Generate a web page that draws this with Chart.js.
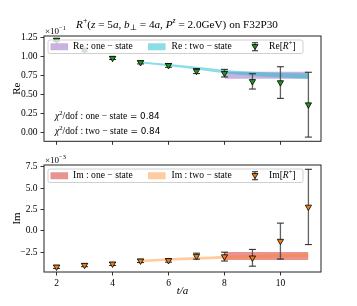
<!DOCTYPE html>
<html><head><meta charset="utf-8">
<script src="https://cdn.jsdelivr.net/npm/chart.js@4/dist/chart.umd.min.js"></script>
<style>
html,body{margin:0;padding:0;background:#fff;}
canvas{position:absolute;left:0;}
#c1{top:0;} #c2{top:150px;}
</style></head>
<body>
<canvas id="c1" width="357" height="150"></canvas>
<canvas id="c2" width="357" height="156"></canvas>
<script>
// ---- data (Re in units of 1e-1, Im in units of 1e-3) ----
const tA = [2, 3, 4, 5, 6, 7, 8, 9, 10, 11];
const reMean = [1.218, 1.088, 0.980, 0.924, 0.885, 0.810, 0.783, 0.675, 0.660, 0.370];
const reErr  = [0.018, 0.018, 0.018, 0.020, 0.025, 0.033, 0.050, 0.100, 0.207, 0.425];
const imMean = [-4.20, -4.00, -3.85, -3.50, -3.45, -2.95, -3.00, -3.14, -1.19, 2.80];
const imErr  = [0.18, 0.18, 0.18, 0.20, 0.20, 0.35, 0.52, 0.98, 2.10, 4.40];

const oneStateT = [8, 11];
const reOneLow  = [0.710, 0.710];
const reOneHigh = [0.800, 0.800];
const imOneLow  = [-3.40, -3.40];
const imOneHigh = [-2.45, -2.45];

const twoStateT = [5, 5.5, 6, 6.5, 7, 7.5, 8, 8.5, 9, 9.5, 10, 10.5, 11];
const reTwoMean = [0.925, 0.906, 0.888, 0.870, 0.850, 0.826, 0.803, 0.787, 0.774, 0.764, 0.756, 0.749, 0.743];
const reTwoErr  = [0.012, 0.013, 0.014, 0.016, 0.018, 0.020, 0.022, 0.024, 0.026, 0.028, 0.030, 0.032, 0.034];
const imTwoMean = [-3.52, -3.43, -3.35, -3.27, -3.20, -3.14, -3.08, -3.03, -2.98, -2.95, -2.92, -2.90, -2.88];
const imTwoErr  = [0.14, 0.14, 0.15, 0.15, 0.16, 0.16, 0.17, 0.17, 0.18, 0.18, 0.19, 0.19, 0.20];

const xTicks  = [2, 4, 6, 8, 10];
const reTicks = [0, 0.25, 0.5, 0.75, 1.0, 1.25];
const imTicks = [-2.5, 0, 2.5, 5.0, 7.5];

const SERIF = '"Liberation Serif", "DejaVu Serif", serif';
const SANS = '"DejaVu Sans", sans-serif';

// ---- rich text helper ----
function rich(ctx, parts, x, y, size, align) {
  const fonts = parts.map(p => {
    const o = p[1] || {};
    const base = o.size || size;
    const s = (o.sup || o.sub) ? base * 0.7 : base;
    return (o.i ? 'italic ' : '') + s + 'px ' + (o.fam || SERIF);
  });
  let w = 0;
  parts.forEach((p, k) => { ctx.font = fonts[k]; w += ctx.measureText(p[0]).width; });
  let cx = align === 'center' ? x - w / 2 : (align === 'right' ? x - w : x);
  ctx.textBaseline = 'middle'; ctx.textAlign = 'left';
  parts.forEach((p, k) => {
    const o = p[1] || {};
    ctx.font = fonts[k];
    const dy = o.sup ? -size * 0.38 : (o.sub ? size * 0.28 : 0);
    ctx.fillText(p[0], cx, y + dy);
    cx += ctx.measureText(p[0]).width;
  });
}

function zip(xs, ys) { return xs.map((x, i) => ({x: x, y: ys[i]})); }

function errGlyph(ctx, x, y, half, capW) {
  ctx.strokeStyle = 'rgba(70,70,70,0.85)'; ctx.lineWidth = 1.3;
  ctx.beginPath(); ctx.moveTo(x, y - half); ctx.lineTo(x, y + half); ctx.stroke();
  ctx.strokeStyle = '#222'; ctx.lineWidth = 1;
  ctx.beginPath();
  ctx.moveTo(x - capW, y - half); ctx.lineTo(x + capW, y - half);
  ctx.moveTo(x - capW, y + half); ctx.lineTo(x + capW, y + half);
  ctx.stroke();
}

function makeChart(id, p) {
  const ds = [
    {data: zip(tA, p.mean), showLine: false, pointStyle: 'triangle', rotation: 180,
     pointRadius: 3.6, pointBackgroundColor: p.mk, pointBorderColor: '#000', pointBorderWidth: 0.8, order: 0},
    {data: zip(twoStateT, p.twoMean.map((v, i) => v + p.twoErr[i])), fill: '+1', backgroundColor: p.twoCol,
     borderWidth: 0, pointRadius: 0, order: 1},
    {data: zip(twoStateT, p.twoMean.map((v, i) => v - p.twoErr[i])), fill: false, borderWidth: 0, pointRadius: 0, order: 1},
    {data: zip(oneStateT, p.oneHigh), fill: '+1', backgroundColor: p.oneCol, borderWidth: 0, pointRadius: 0, order: 2},
    {data: zip(oneStateT, p.oneLow), fill: false, borderWidth: 0, pointRadius: 0, order: 2}
  ];
  const plug = {
    id: 'extras',
    beforeDatasetDraw(chart, args) {
      if (args.index !== 0) return;
      const ctx = chart.ctx, xs = chart.scales.x, ys = chart.scales.y;
      ctx.save();
      tA.forEach((t, i) => {
        const px = xs.getPixelForValue(t);
        const y1 = ys.getPixelForValue(p.mean[i] + p.err[i]);
        const y2 = ys.getPixelForValue(p.mean[i] - p.err[i]);
        ctx.strokeStyle = 'rgba(70,70,70,0.85)'; ctx.lineWidth = 1.3;
        ctx.beginPath(); ctx.moveTo(px, y1); ctx.lineTo(px, y2); ctx.stroke();
        ctx.strokeStyle = '#222'; ctx.lineWidth = 1;
        ctx.beginPath(); ctx.moveTo(px - 3.5, y1); ctx.lineTo(px + 3.5, y1);
        ctx.moveTo(px - 3.5, y2); ctx.lineTo(px + 3.5, y2); ctx.stroke();
      });
      ctx.restore();
    },
    afterDatasetsDraw(chart) {
      const ctx = chart.ctx, a = chart.chartArea;
      ctx.save();
      const L = a.left + 4, T = a.top + 4, W = 255, H = 13.5;
      ctx.fillStyle = 'rgba(255,255,255,0.8)'; ctx.strokeStyle = '#d0d0d0'; ctx.lineWidth = 1;
      ctx.beginPath(); ctx.roundRect(L, T, W, H, 2); ctx.fill(); ctx.stroke();
      const cy = T + H / 2;
      ctx.fillStyle = p.oneCol; ctx.fillRect(L + 2.5, cy - 3.5, 17.6, 7);
      ctx.fillStyle = p.twoCol; ctx.fillRect(L + 100, cy - 3.5, 17.6, 7);
      ctx.fillStyle = '#000';
      rich(ctx, [[p.lab + ' : one − state']], L + 25, cy, 9.6, 'left');
      rich(ctx, [[p.lab + ' : two − state']], L + 123.5, cy, 9.6, 'left');
      errGlyph(ctx, L + 207, cy, 4, 3);
      ctx.fillStyle = p.mk; ctx.strokeStyle = '#000'; ctx.lineWidth = 0.8;
      ctx.beginPath(); ctx.moveTo(L + 204, cy - 2.2); ctx.lineTo(L + 210, cy - 2.2); ctx.lineTo(L + 207, cy + 2.8);
      ctx.closePath(); ctx.fill(); ctx.stroke();
      ctx.fillStyle = '#000';
      rich(ctx, [[p.lab + '['], ['R', {i: true}], ['+', {sup: true}], [']']], L + 221, cy, 9.6, 'left');
      ctx.restore();
    },
    afterDraw(chart) {
      const ctx = chart.ctx, a = chart.chartArea;
      ctx.save();
      ctx.strokeStyle = '#222'; ctx.lineWidth = 1;
      ctx.strokeRect(a.left, a.top, a.right - a.left, a.bottom - a.top);
      ctx.fillStyle = '#000';
      rich(ctx, [['×10'], [p.exp, {sup: true}]], a.left + 1, a.top - 4.5, 9, 'left');
      ctx.save();
      ctx.translate(17, (a.top + a.bottom) / 2);
      ctx.rotate(-Math.PI / 2);
      rich(ctx, [[p.lab]], 0, 0, 11, 'center');
      ctx.restore();
      if (p.top) {
        rich(ctx, [['R', {i: true}], ['+', {sup: true}], ['('], ['z', {i: true}], [' = 5'], ['a', {i: true}], [', '],
                   ['b', {i: true}], ['⊥', {sub: true}], [' = 4'], ['a', {i: true}], [', '], ['P', {i: true}],
                   ['z', {i: true, sup: true}], [' = 2.0GeV) on F32P30']], 177, 25, 11.2, 'center');
        rich(ctx, [['χ', {i: true}], ['2', {sup: true}], ['/dof : one − state'], [' = 0.84', {fam: SANS, size: 8.8}]],
             a.left + 11, a.bottom - 24.4, 9.6, 'left');
        rich(ctx, [['χ', {i: true}], ['2', {sup: true}], ['/dof : two − state'], [' = 0.84', {fam: SANS, size: 8.8}]],
             a.left + 11, a.bottom - 9.4, 9.6, 'left');
      } else {
        rich(ctx, [['t/a', {i: true}]], (a.left + a.right) / 2, a.bottom + 19.5, 11, 'center');
      }
      ctx.restore();
    }
  };
  return new Chart(document.getElementById(id), {
    type: 'line',
    data: {datasets: ds},
    plugins: [plug],
    options: {
      responsive: false, animation: false, devicePixelRatio: 1,
      layout: {padding: {top: p.padTop, right: 36, left: 0, bottom: 0}},
      plugins: {legend: {display: false}, tooltip: {enabled: false}},
      elements: {line: {tension: 0}},
      scales: {
        x: {type: 'linear', min: 1.55, max: 11.45,
            afterBuildTicks: s => { s.ticks = xTicks.map(v => ({value: v})); },
            afterFit: s => { s.height = p.xH; },
            border: {display: false},
            grid: {drawOnChartArea: false, drawTicks: true, tickLength: 3.5, tickColor: '#000', lineWidth: 0.8},
            ticks: {display: !p.top, autoSkip: false, padding: 2, color: '#000',
                    font: {family: SERIF, size: 9.5}, maxRotation: 0, callback: v => String(v)}},
        y: {type: 'linear', min: p.ymin, max: p.ymax,
            afterBuildTicks: s => { s.ticks = p.yTicks.map(v => ({value: v})); },
            afterFit: s => { s.width = 44; },
            border: {display: false},
            grid: {drawOnChartArea: false, drawTicks: true, tickLength: 3.5, tickColor: '#000', lineWidth: 0.8},
            ticks: {autoSkip: false, padding: 3, color: '#000', font: {family: SERIF, size: 9.5},
                    callback: v => v.toFixed(p.dec).replace('-', '−')}}
      }
    }
  });
}

makeChart('c1', {top: true, mean: reMean, err: reErr, mk: '#1e961e',
  twoMean: reTwoMean, twoErr: reTwoErr, oneLow: reOneLow, oneHigh: reOneHigh,
  oneCol: 'rgba(148,103,189,0.5)', twoCol: 'rgba(23,190,207,0.5)',
  lab: 'Re', exp: '−1', padTop: 36, xH: 7.3, ymin: -0.11, ymax: 1.27, yTicks: reTicks, dec: 2});

makeChart('c2', {top: false, mean: imMean, err: imErr, mk: '#f07f0e',
  twoMean: imTwoMean, twoErr: imTwoErr, oneLow: imOneLow, oneHigh: imOneHigh,
  oneCol: 'rgba(214,39,40,0.5)', twoCol: 'rgba(255,127,14,0.4)',
  lab: 'Im', exp: '−3', padTop: 15, xH: 34, ymin: -4.8, ymax: 7.7, yTicks: imTicks, dec: 1});
</script>
</body></html>
